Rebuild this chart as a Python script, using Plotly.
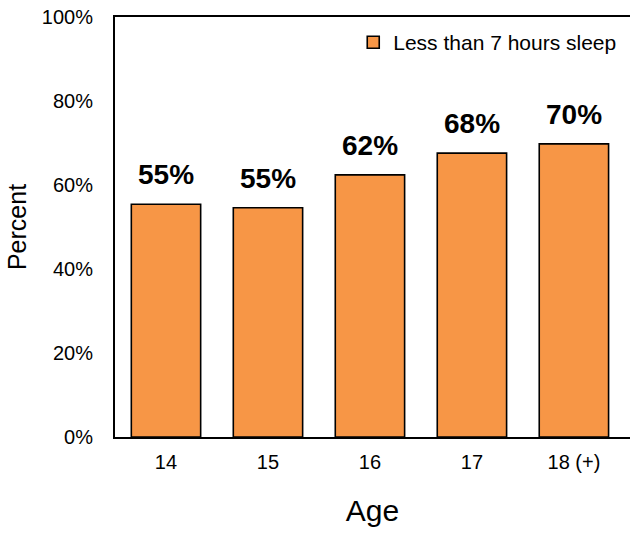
import plotly.graph_objects as go

# Share of students reporting less than 7 hours of sleep, by age
ages = ["14", "15", "16", "17", "18 (+)"]
pct_short_sleep = [55.4, 54.6, 62.4, 67.6, 69.8]
y_ticks = [0, 20, 40, 60, 80, 100]
y_tick_text = ["0%", "20%", "40%", "60%", "80%", "100%"]

ORANGE = "#F79646"
FONT = "Liberation Sans, Arial, sans-serif"

fig = go.Figure()
fig.add_trace(go.Bar(
    x=ages,
    y=pct_short_sleep,
    name="Less than 7 hours sleep",
    marker=dict(color=ORANGE, line=dict(color="black", width=1.6)),
    showlegend=True,
))

# Bold value labels above each bar (x given as category index)
for i, v in enumerate(pct_short_sleep):
    fig.add_annotation(
        x=i, y=v, text=f"{v:.0f}%", showarrow=False,
        yanchor="bottom", yshift=12,
        font=dict(family=FONT, size=28, color="black", weight="bold"),
    )

fig.update_layout(
    width=630, height=533,
    margin=dict(l=115, r=0, t=17, b=96),
    paper_bgcolor="white", plot_bgcolor="white",
    bargap=0.32,
    font=dict(family=FONT, color="black"),
    legend=dict(
        x=0.983, y=0.988, xanchor="right", yanchor="top",
        font=dict(family=FONT, size=21, color="black"),
        bgcolor="rgba(0,0,0,0)",
        itemwidth=30,
    ),
    xaxis=dict(
        range=[-0.5, 4.55],
        showline=True, linecolor="black", linewidth=2, mirror=True,
        ticks="", showgrid=False,
        tickfont=dict(family=FONT, size=20, color="black"),
        ticklabelstandoff=6,
        title=dict(text="Age", font=dict(family=FONT, size=30, color="black"), standoff=28),
    ),
    yaxis=dict(
        range=[0, 100],
        tickvals=y_ticks, ticktext=y_tick_text,
        showline=True, linecolor="black", linewidth=2,
        ticks="", showgrid=False, zeroline=False,
        tickfont=dict(family=FONT, size=20, color="black"),
        ticklabelstandoff=16,
        title=dict(text="Percent", font=dict(family=FONT, size=25, color="black"), standoff=8),
    ),
)

fig.write_html("out.html")
